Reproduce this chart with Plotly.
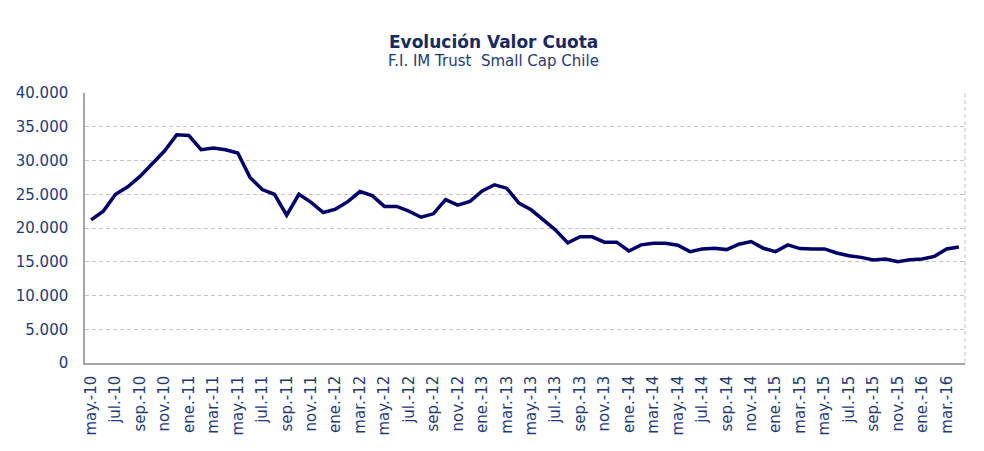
import plotly.graph_objects as go

# --- data -------------------------------------------------------------
month_abbr = ["ene", "feb", "mar", "abr", "may", "jun",
              "jul", "ago", "sep", "oct", "nov", "dic"]
start_year = 2010
start_month = 5  # may
n_months = 72

categories = []
for k in range(n_months):
    m = (start_month - 1 + k) % 12
    y = start_year + (start_month - 1 + k) // 12
    categories.append(f"{month_abbr[m]}.-{str(y)[2:]}")

valor_cuota = [
    21200, 22500, 25000, 26100, 27650, 29500, 31400, 33800,   # may-10 .. dic-10
    33700, 31600, 31850, 31600, 31100, 27500, 25700, 25000,   # ene-11 .. ago-11
    21900, 25000, 23800, 22300,                               # sep-11 .. dic-11
    22800, 23900, 25400, 24800, 23200, 23200, 22500, 21600,   # ene-12 .. ago-12
    22100, 24200, 23400, 23950,                               # sep-12 .. dic-12
    25500, 26400, 25900, 23700, 22700, 21200, 19700, 17800,   # ene-13 .. ago-13
    18700, 18700, 17900, 17900,                               # sep-13 .. dic-13
    16600, 17500, 17750, 17750, 17450, 16500, 16900, 17000,   # ene-14 .. ago-14
    16800, 17600, 18000, 17000,                               # sep-14 .. dic-14
    16500, 17500, 16950, 16900, 16900, 16300, 15900, 15650,   # ene-15 .. ago-15
    15250, 15400, 15000, 15300,                               # sep-15 .. dic-15
    15400, 15800, 16900, 17200,                               # ene-16 .. abr-16
]

tick_labels = categories[::2]
y_ticks = [0, 5000, 10000, 15000, 20000, 25000, 30000, 35000, 40000]

title_text = "Evolución Valor Cuota"
subtitle_text = "F.I. IM Trust&nbsp; Small Cap Chile"

# --- figure -----------------------------------------------------------
navy = "#000066"
label_color = "#1F3A73"
grid_color = "#C4C4C4"
axis_color = "#A6A6A6"
fam = "DejaVu Sans, Verdana, sans-serif"

fig = go.Figure()
fig.add_trace(go.Scatter(
    x=categories, y=valor_cuota, mode="lines",
    line=dict(color=navy, width=3.5),
    hoverinfo="x+y", showlegend=False,
))

# page body has an 8px margin, so the figure is sized/offset to compensate
fig.update_layout(
    width=976, height=443,
    margin=dict(l=77, r=19, t=85, b=88),
    paper_bgcolor="white", plot_bgcolor="white",
    separators=",.",
    font=dict(family=fam, color=label_color),
    showlegend=False,
)

fig.update_xaxes(
    type="category", automargin=False,
    range=[-0.5, n_months - 0.5],
    tickmode="array", tickvals=tick_labels, ticktext=tick_labels,
    tickangle=-90,
    tickfont=dict(size=15, color=label_color, family=fam),
    showgrid=False, zeroline=False,
    showline=True, linecolor=axis_color, linewidth=1.5,
    ticks="", ticklabelstandoff=5,
)

fig.update_yaxes(
    range=[0, 40000], automargin=False,
    tickmode="array", tickvals=y_ticks,
    tickformat=",d",
    tickfont=dict(size=15, color=label_color, family=fam),
    showgrid=True, gridcolor=grid_color, gridwidth=1, griddash="4px,3px",
    zeroline=False,
    showline=True, linecolor=axis_color, linewidth=1.5,
    ticks="", ticklabelstandoff=12,
)

# dashed right border of the plot area
fig.add_shape(type="line", xref="paper", yref="paper",
              x0=1, x1=1, y0=0, y1=1,
              line=dict(color=grid_color, width=1, dash="4px,3px"))

fig.add_annotation(
    text=f"<b>{title_text}</b>", xref="paper", yref="paper",
    x=0.464, y=1.19, xanchor="center", yanchor="middle", showarrow=False,
    font=dict(size=17, color="#1A2A5E", family=fam),
)
fig.add_annotation(
    text=subtitle_text, xref="paper", yref="paper",
    x=0.464, y=1.12, xanchor="center", yanchor="middle", showarrow=False,
    font=dict(size=15, color=label_color, family=fam),
)

fig.write_html("out.html")
